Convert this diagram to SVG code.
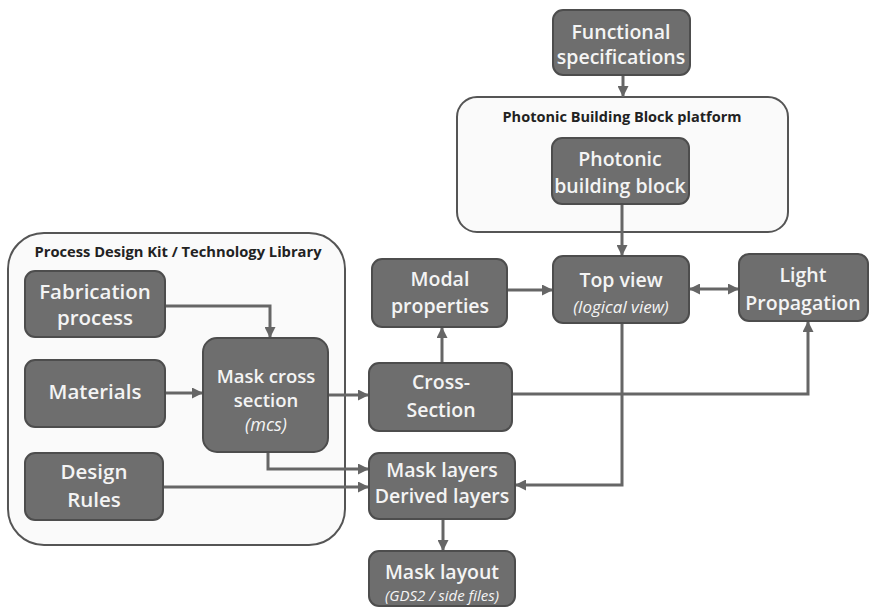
<svg xmlns="http://www.w3.org/2000/svg" width="870" height="616" viewBox="0 0 870 616">
<defs>
<marker id="ah" viewBox="0 0 10 10" refX="10" refY="5" markerWidth="11" markerHeight="11" markerUnits="userSpaceOnUse" orient="auto-start-reverse">
<path d="M0,0 L10,5 L0,10 Z" fill="#666"/>
</marker>
<style>
.cont{fill:#fafafa;stroke:#555;stroke-width:2}
.node rect{fill:#6e6e6e;stroke:#4d4d4d;stroke-width:2}
.node text{font-family:"Open Sans","Liberation Sans",sans-serif;font-weight:600;font-size:19.5px;fill:#f4f4f4;text-anchor:middle}
.node text.it{font-style:italic;font-weight:400;font-size:17px}
.title{font-family:"Open Sans","Liberation Sans",sans-serif;font-weight:700;font-size:14px;fill:#222;text-anchor:middle}
.conn path{fill:none;stroke:#666;stroke-width:3}
</style>
</defs>
<rect width="870" height="616" fill="#ffffff"/>
<g id="pdk-container">
<rect class="cont" x="8" y="233" width="337" height="312" rx="36"/>
<text class="title" x="178" y="257" textLength="287" lengthAdjust="spacingAndGlyphs">Process Design Kit / Technology Library</text>
</g>
<g id="pbb-container">
<rect class="cont" x="457" y="97" width="331" height="135" rx="20"/>
<text class="title" x="622" y="122" textLength="239" lengthAdjust="spacingAndGlyphs">Photonic Building Block platform</text>
</g>
<g class="conn" id="connectors">
<path d="M623,75 V97" marker-end="url(#ah)"/>
<path d="M622,204 V256" marker-end="url(#ah)"/>
<path d="M507,290 H553" marker-end="url(#ah)"/>
<path d="M689,289 H739" marker-start="url(#ah)" marker-end="url(#ah)"/>
<path d="M442,363 V327" marker-end="url(#ah)"/>
<path d="M328,395 H369" marker-end="url(#ah)"/>
<path d="M512,394 H808 V321" marker-end="url(#ah)"/>
<path d="M622,323 V485 H515" marker-end="url(#ah)"/>
<path d="M165,306 H270 V338" marker-end="url(#ah)"/>
<path d="M165,393 H203" marker-end="url(#ah)"/>
<path d="M268,452 V469 H369" marker-end="url(#ah)"/>
<path d="M163,487 H369" marker-end="url(#ah)"/>
<path d="M443,519 V551" marker-end="url(#ah)"/>
</g>
<g class="node" id="functional-specifications">
<rect x="553" y="10" width="137" height="65" rx="10"/>
<text x="621" y="39">Functional</text>
<text x="621" y="64">specifications</text>
</g>
<g class="node" id="photonic-building-block">
<rect x="552" y="138" width="137" height="66" rx="10"/>
<text x="620" y="166">Photonic</text>
<text x="620" y="193">building block</text>
</g>
<g class="node" id="top-view">
<rect x="553" y="256" width="136" height="67" rx="10"/>
<text x="621" y="287">Top view</text>
<text class="it" x="621" y="313">(logical view)</text>
</g>
<g class="node" id="light-propagation">
<rect x="739" y="254" width="129" height="67" rx="10"/>
<text x="803" y="282">Light</text>
<text x="803" y="310">Propagation</text>
</g>
<g class="node" id="modal-properties">
<rect x="372" y="259" width="135" height="68" rx="10"/>
<text x="440" y="286">Modal</text>
<text x="440" y="313">properties</text>
</g>
<g class="node" id="cross-section">
<rect x="369" y="363" width="143" height="68" rx="10"/>
<text x="441" y="389">Cross-</text>
<text x="441" y="417">Section</text>
</g>
<g class="node" id="fabrication-process">
<rect x="25" y="271" width="140" height="66" rx="10"/>
<text x="95" y="299" style="font-size:20.5px">Fabrication</text>
<text x="95" y="325" style="font-size:20.5px">process</text>
</g>
<g class="node" id="materials">
<rect x="25" y="360" width="140" height="67" rx="10"/>
<text x="95" y="399" style="font-size:20.5px">Materials</text>
</g>
<g class="node" id="design-rules">
<rect x="25" y="453" width="138" height="67" rx="10"/>
<text x="94" y="479" style="font-size:20.5px">Design</text>
<text x="94" y="507" style="font-size:20.5px">Rules</text>
</g>
<g class="node" id="mask-cross-section">
<rect x="203" y="338" width="125" height="114" rx="14"/>
<text x="266" y="383" style="font-size:18.5px">Mask cross</text>
<text x="266" y="407" style="font-size:18.5px">section</text>
<text class="it" x="266" y="431" style="font-size:18px">(mcs)</text>
</g>
<g class="node" id="mask-layers">
<rect x="369" y="453" width="146" height="66" rx="10"/>
<text x="442" y="477">Mask layers</text>
<text x="442" y="503">Derived layers</text>
</g>
<g class="node" id="mask-layout">
<rect x="369" y="551" width="146" height="55" rx="10"/>
<text x="442" y="579">Mask layout</text>
<text class="it" x="442" y="601" style="font-size:15px">(GDS2 / side files)</text>
</g>
</svg>
